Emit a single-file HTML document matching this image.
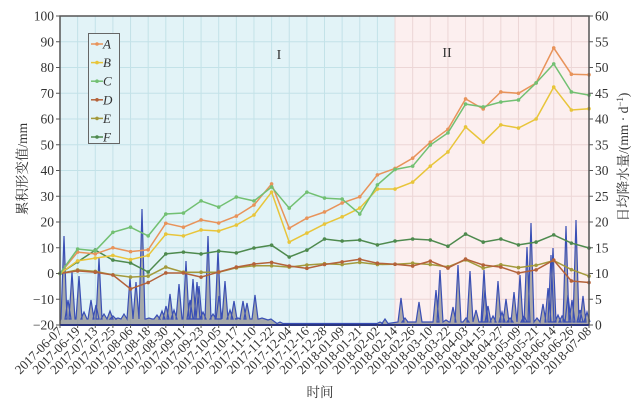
<!DOCTYPE html>
<html><head><meta charset="utf-8">
<style>
html,body{margin:0;padding:0;background:#fff;}
svg{display:block;}
text{font-family:"Liberation Serif","Noto Serif CJK SC",serif;fill:#333;}
</style></head><body>
<svg id="s" width="640" height="409" viewBox="0 0 640 409" xmlns="http://www.w3.org/2000/svg"></svg>
<script>
const s=document.getElementById('s');
const X0=60,X1=589,Y0=16,Y1=325;
const dx=(X1-X0)/30;
const xi=i=>X0+i*dx;
const yL=v=>Y0+(100-v)*(Y1-Y0)/120;
const yR=r=>Y1-r*(Y1-Y0)/60;
let h='';
h+=`<rect x="${X0}" y="${Y0}" width="${395-X0}" height="${Y1-Y0}" fill="#e2f3f7"/>`;
h+=`<rect x="395" y="${Y0}" width="${X1-395}" height="${Y1-Y0}" fill="#fcefef"/>`;
for(let i=0;i<=30;i++){const x=xi(i);h+=`<line x1="${x}" y1="${Y0}" x2="${x}" y2="${Y1}" stroke="${x<395?'#c3e2e8':'#ecd6d6'}" stroke-width="1"/>`;}
for(let v=-20;v<=100;v+=10){const y=yL(v);h+=`<line x1="${X0}" y1="${y}" x2="395" y2="${y}" stroke="#c3e2e8"/><line x1="395" y1="${y}" x2="${X1}" y2="${y}" stroke="#ecd6d6"/>`;}
// rain
const sp=[[64,236],[68,300],[72,272],[79,276],[84,312],[91,300],[96,305],[99,258],[104,314],[110,311],[113,316],[118,318],[124,314],[130,278],[136,282],[142,209],[149,318],[157,315],[162,311],[166,306],[170,294],[174,310],[179,284],[186,261],[190,300],[193,279],[197,282],[199,286],[203,312],[208,236],[213,314],[218,250],[219,296],[225,281],[230,310],[234,301],[238,318],[243,301],[247,303],[255,295],[262,318],[268,320],[280,322],[380,322],[385,319],[401,298],[405,318],[410,322],[419,302],[436,290],[440,270],[446,320],[453,307],[458,265],[466,318],[470,271],[476,310],[484,270],[485,290],[488,306],[493,316],[498,281],[502,312],[506,299],[510,318],[514,292],[520,275],[524,316],[527,247],[531,223],[537,318],[543,304],[548,288],[551,255],[553,248],[558,315],[562,316],[566,226],[568,295],[572,300],[576,220],[580,310],[583,296],[587,312]];
function base(x){return x<270?Y1-6:(x<390?Y1-1.5:Y1-3);}
let pts=[[X0,Y1-4]];
for(const [x,y] of sp){pts.push([x-3,base(x)]);pts.push([x,y]);pts.push([x+3,base(x)]);}
pts.push([X1,Y1-6]);
const pl=pts.map(p=>p[0]+' '+p[1]).join(' L');
h+=`<path d="M${X0} ${Y1} L${pl} L${X1} ${Y1} Z" fill="#909090" fill-opacity="0.75" stroke="none"/>`;
h+=`<path d="M${pl}" fill="none" stroke="#3a4fb5" stroke-width="1.2"/>`;
const S={
A:['#e8935a',[0,8.3,7.6,10,8.5,9.2,19.5,18,20.8,19.6,22.3,26.6,34.8,17.6,21.5,23.9,27.4,29.8,38.3,40.8,44.8,51,56,67.8,63.9,70.5,70,74,87.6,77.4,77.2]],
B:['#e8c53a',[0,4.9,6,7,5.4,7,15.3,14.6,16.9,16.5,18.8,22.7,31.6,12.2,15.7,19.2,22,25.4,32.8,32.8,35.5,41.7,47.2,56.9,51,57.7,56.5,60,72.4,63.5,64]],
C:['#72c072',[0,9.5,8.8,16,18,14.6,23.1,23.5,28.2,25.8,29.7,28.2,33.6,25.4,31.6,29.3,28.9,23.1,34.4,40.4,41.7,49.9,54.6,65.8,64.7,66.6,67.4,74,81.4,70.5,69.3]],
D:['#b4623a',[0,1,0.5,-0.6,-6,-3.5,0.2,0.2,-1.4,0.6,2.5,3.7,4.3,2.9,2,3.5,4.5,5.5,4,3.6,2.9,4.8,2.1,5.6,3.3,2.5,0.2,1.4,5.2,-2.9,-3.5]],
E:['#a39a3c',[0,1.4,0.8,-0.5,-1.4,-1,2.5,0.5,0.5,0.5,2.2,3,3,2.5,3.3,3.8,3.5,4.3,3.5,3.6,4,3.5,2.6,5.3,2.1,3.4,2.3,3.2,5,1.5,-1]],
F:['#4e8a4e',[0,4.5,9.1,5.2,4.1,0.6,7.6,8.3,7.6,8.7,8,9.9,11,6.4,9.1,13.4,12.6,13,11.1,12.6,13.4,13,10.6,15.3,12.2,13.4,11.1,12.2,15,11.8,9.9]]};
for(const k of ['E','D','F','B','A','C']){const [c,v]=S[k];
h+=`<polyline points="${v.map((a,i)=>xi(i).toFixed(1)+','+yL(a).toFixed(1)).join(' ')}" fill="none" stroke="${c}" stroke-width="1.5"/>`;
for(let i=0;i<v.length;i++)h+=`<circle cx="${xi(i)}" cy="${yL(v[i])}" r="1.8" fill="${c}"/>`;}
h+=`<rect x="${X0}" y="${Y0}" width="${X1-X0}" height="${Y1-Y0}" fill="none" stroke="#555" stroke-width="1.5"/>`;
h+=`<line x1="${X0}" y1="${Y1}" x2="${X1}" y2="${Y1}" stroke="#2a3580" stroke-width="2"/>`;
for(let v=-20;v<=100;v+=10){const y=yL(v);h+=`<line x1="${X0-4}" y1="${y}" x2="${X0}" y2="${y}" stroke="#555"/><text x="${X0-6}" y="${y+4.5}" font-size="13.5" text-anchor="end">${v<0?'\u2212'+(-v):v}</text>`;}
for(let r=0;r<=60;r+=5){const y=yR(r);h+=`<line x1="${X1}" y1="${y}" x2="${X1+4}" y2="${y}" stroke="#555"/><text x="${X1+6}" y="${y+4.5}" font-size="13.5">${r}</text>`;}
const L=['2017-06-07','2017-06-19','2017-07-13','2017-07-25','2017-08-06','2017-08-18','2017-08-30','2017-09-11','2017-09-23','2017-10-05','2017-10-17','2017-11-10','2017-11-22','2017-12-04','2017-12-16','2017-12-28','2018-01-09','2018-01-21','2018-02-02','2018-02-14','2018-02-26','2018-03-10','2018-03-22','2018-04-03','2018-04-15','2018-04-27','2018-05-09','2018-05-21','2018-06-14','2018-06-26','2018-07-08'];
L.forEach((t,i)=>{const x=xi(i);h+=`<line x1="${x}" y1="${Y1}" x2="${x}" y2="${Y1+3}" stroke="#555"/><text transform="translate(${x+3},${Y1+7}) rotate(-45)" font-size="13" text-anchor="end">${t}</text>`;});
h+=`<text transform="translate(27,169) rotate(-90)" font-size="13.5" text-anchor="middle">累积形变值/mm</text>`;
h+=`<text transform="translate(628,157) rotate(-90)" font-size="13.5" text-anchor="middle">日均降水量/(mm · d<tspan dy="-5" font-size="9">−1</tspan><tspan dy="5">)</tspan></text>`;
h+=`<text x="320" y="397" font-size="13.5" text-anchor="middle">时间</text>`;
h+=`<text x="279" y="59" font-size="14" text-anchor="middle">I</text><text x="447" y="57" font-size="14" text-anchor="middle">II</text>`;
h+=`<rect x="88.5" y="33.5" width="31" height="110" fill="#e2f3f7" stroke="#666"/>`;
['A','B','C','D','E','F'].forEach((k,i)=>{const y=44+i*18.6;const c=S[k][0];
h+=`<line x1="91" y1="${y}" x2="103" y2="${y}" stroke="${c}" stroke-width="1.5"/><circle cx="97" cy="${y}" r="1.8" fill="${c}"/><text x="103" y="${y+4.5}" font-size="13" font-style="italic">${k}</text>`;});
s.innerHTML=h;
</script>
</body></html>
